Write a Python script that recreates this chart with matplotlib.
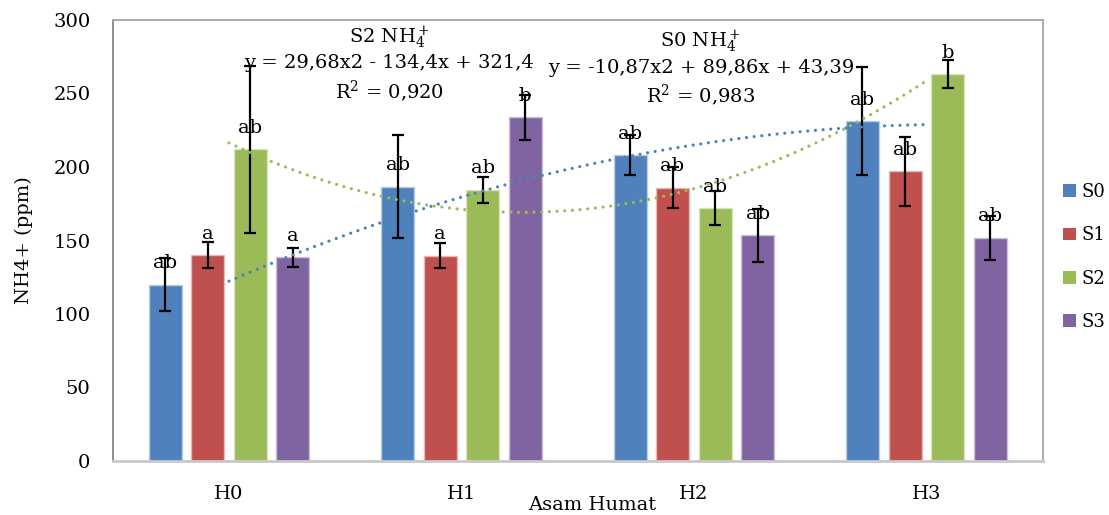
import numpy as np
import matplotlib
matplotlib.use("Agg")
import matplotlib.pyplot as plt
from matplotlib.patches import Patch

plt.rcParams['font.family'] = ['DejaVu Serif']
plt.rcParams['mathtext.fontset'] = 'dejavuserif'

# data
categories = ["H0", "H1", "H2", "H3"]
series = ["S0", "S1", "S2", "S3"]
s0 = [120.0, 186.5, 208.0, 231.2]
s1 = [140.0, 139.5, 186.0, 197.0]
s2 = [212.0, 184.5, 172.0, 263.0]
s3 = [138.5, 233.8, 153.5, 152.0]
s0_err = [18.0, 35.0, 13.5, 36.7]
s1_err = [9.0, 8.5, 14.0, 23.5]
s2_err = [57.0, 9.0, 11.7, 9.5]
s3_err = [6.5, 15.5, 18.0, 15.0]
letters = [["ab", "ab", "ab", "ab"],
           ["a", "a", "ab", "ab"],
           ["ab", "ab", "ab", "b"],
           ["a", "b", "ab", "ab"]]
colors = ["#4F81BD", "#C0504D", "#9BBB59", "#8064A2"]
edges = ["#B9CDE5", "#E6B9B8", "#D7E4BD", "#CCC1DA"]

values = [s0, s1, s2, s3]
errors = [s0_err, s1_err, s2_err, s3_err]
fs = 14

fig = plt.figure(figsize=(11.09, 5.15), dpi=100)
ax = fig.add_axes([112.7 / 1109, 54 / 515, 929.8 / 1109, 441 / 515])

x = np.arange(len(categories))
pitch = 0.183
width = 0.142
for i, name in enumerate(series):
    pos = x + (i - 1.5) * pitch
    ax.bar(pos, values[i], width, color=colors[i], edgecolor=edges[i],
           linewidth=1, zorder=2)
    ax.errorbar(pos, values[i], yerr=errors[i], fmt='none', ecolor='black',
                elinewidth=1.6, capsize=4.5, capthick=1.6, zorder=3)
    for p, v, t in zip(pos, values[i], letters[i]):
        ax.annotate(t, (p, v), xytext=(0, 9), textcoords='offset points',
                    ha='center', va='bottom', fontsize=fs, zorder=4)

# polynomial trendlines for S0 and S2
xs = np.linspace(1, 4, 200)
for vals, col in [(s0, colors[0]), (s2, colors[2])]:
    coef = np.polyfit(np.arange(1, 5), vals, 2)
    ax.plot(xs - 1, np.polyval(coef, xs), color=col, lw=2.3,
            linestyle=(0, (0.01, 2.4)), dash_capstyle='round', zorder=5)

ax.text(0.69, 288, "S2 NH$\\mathregular{_4^+}$", ha='center', va='center', fontsize=fs)
ax.text(0.69, 270.5, "y = 29,68x2 - 134,4x + 321,4", ha='center', va='center', fontsize=fs)
ax.text(0.69, 251.5, "R$\\mathregular{^2}$ = 0,920", ha='center', va='center', fontsize=fs)
ax.text(2.03, 285, "S0 NH$\\mathregular{_4^+}$", ha='center', va='center', fontsize=fs)
ax.text(2.03, 267.5, "y = -10,87x2 + 89,86x + 43,39", ha='center', va='center', fontsize=fs)
ax.text(2.03, 248.5, "R$\\mathregular{^2}$ = 0,983", ha='center', va='center', fontsize=fs)

ax.set_xlim(-0.5, 3.5)
ax.set_ylim(0, 300)
ax.set_yticks(range(0, 301, 50))
ax.set_xticks(x)
ax.set_xticklabels(categories)
ax.tick_params(axis='both', length=0, labelsize=fs)
ax.tick_params(axis='x', pad=17)
ax.tick_params(axis='y', pad=16)

for side in ['top', 'right']:
    ax.spines[side].set_color('#A6A6A6')
    ax.spines[side].set_linewidth(1.3)
ax.spines['left'].set_color('#868686')
ax.spines['left'].set_linewidth(1.3)
ax.spines['bottom'].set_color('#C8C8C8')
ax.spines['bottom'].set_linewidth(2)

ax.set_ylabel("NH4+ (ppm)", fontsize=fs)
ax.yaxis.set_label_coords(-0.086, 0.5)
fig.text(592 / 1109, 1 - 505 / 515, "Asam Humat", ha='center', va='center', fontsize=fs)

handles = [Patch(facecolor=c) for c in colors]
fig.legend(handles, series, loc='upper left', bbox_to_anchor=(1063 / 1109, 1 - 183 / 515),
           frameon=False, fontsize=13, handlelength=0.7, handleheight=0.7,
           handletextpad=0.3, labelspacing=1.4, borderaxespad=0, borderpad=0)

fig.savefig("out.png", dpi=100)
